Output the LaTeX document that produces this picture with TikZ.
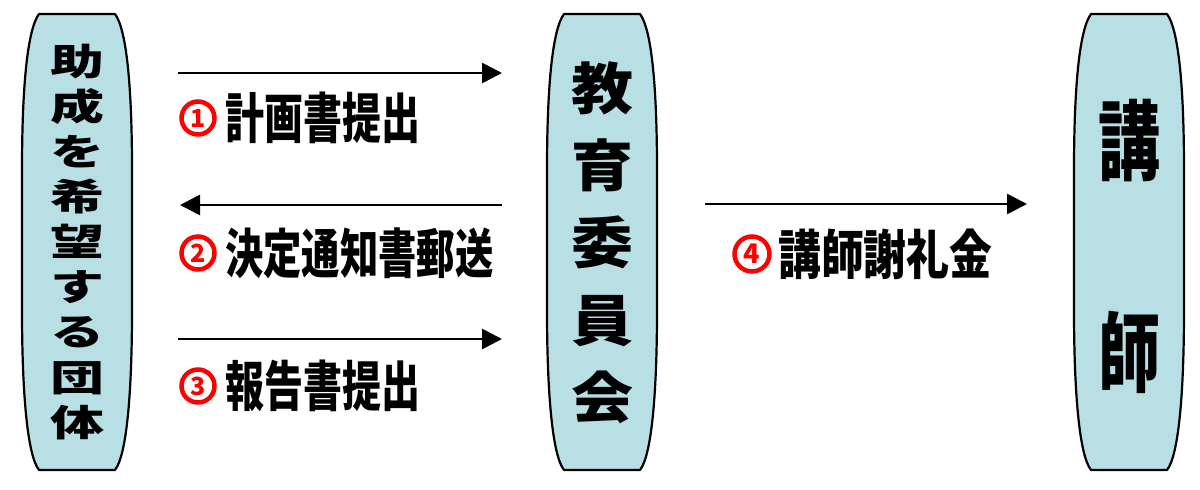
\documentclass[tikz,border=0pt]{standalone}
\usepackage{fontspec}
\newfontfamily\jp{Noto Sans CJK JP}
\usetikzlibrary{arrows.meta}
\definecolor{boxfill}{HTML}{B8DFE4}
\definecolor{numred}{HTML}{FF0000}
\tikzset{
  pillar/.style={draw=black, line width=2.2pt, fill=boxfill, line join=round},
  flow/.style={line width=2.7pt, -{Triangle[length=20pt,width=20pt]}},
  lbl/.style={inner sep=0pt, anchor=west},
  num/.style={circle, draw=numred, line width=4.5pt, minimum size=33pt, inner sep=0pt,
              text=numred, font=\jp\bfseries\fontsize{25}{25}\selectfont},
  pillarshape/.pic={
    \path[pillar] (-38,14) -- (38,14)
      .. controls (50,30) and (55,90) .. (55,170) -- (55,310)
      .. controls (55,390) and (50,455) .. (38,470) -- (-38,470)
      .. controls (-50,455) and (-55,390) .. (-55,310) -- (-55,170)
      .. controls (-55,90) and (-50,30) .. cycle;
  }
}
\begin{document}
\begin{tikzpicture}[x=1pt,y=-1pt]
\useasboundingbox (0,0) rectangle (1200,490);
\fill[white] (0,0) rectangle (1200,490);

% pillars
\pic (L) at (77,0) {pillarshape};
\pic (M) at (602,0) {pillarshape};
\pic (R) at (1129,0) {pillarshape};

% pillar texts
\node[inner sep=0pt, align=center, yscale=0.68, transform shape,
      font=\jp\bfseries\fontsize{54}{66.2}\selectfont] (ltext) at (77,242)
  {助\\成\\を\\希\\望\\す\\る\\団\\体};
\node[inner sep=0pt, align=center, yscale=0.9, transform shape,
      font=\jp\bfseries\fontsize{62}{85.9}\selectfont] (mtext) at (602,242.5)
  {教\\育\\委\\員\\会};
\node[inner sep=0pt, align=center, yscale=1.4, transform shape,
      font=\jp\bfseries\fontsize{62}{152}\selectfont] (rtext) at (1129,246.5)
  {講\\師};

% arrow end points
\coordinate (a1s) at (178,73);  \coordinate (a1e) at (502,73);
\coordinate (a2s) at (502,205); \coordinate (a2e) at (180,205);
\coordinate (a3s) at (178,339); \coordinate (a3e) at (502,339);
\coordinate (a4s) at (705,204); \coordinate (a4e) at (1027,204);

\draw[flow] (a1s) -- (a1e);
\draw[flow] (a2s) -- (a2e);
\draw[flow] (a3s) -- (a3e);
\draw[flow] (a4s) -- (a4e);

% labels
\node[num] (n1) at (198,118) {1};
\node[lbl, yscale=1.39, transform shape, font=\jp\bfseries\fontsize{39}{39}\selectfont] (t1) at (225,118) {計画書提出};
\node[num] (n2) at (198,253) {2};
\node[lbl, yscale=1.39, transform shape, font=\jp\bfseries\fontsize{38.3}{38.3}\selectfont] (t2) at (225,253) {決定通知書郵送};
\node[num] (n3) at (198,386) {3};
\node[lbl, yscale=1.39, transform shape, font=\jp\bfseries\fontsize{39}{39}\selectfont] (t3) at (225,386) {報告書提出};
\node[num, minimum size=35pt, font=\jp\bfseries\fontsize{27}{27}\selectfont] (n4) at (752,254) {4};
\node[lbl, yscale=1.24, transform shape, font=\jp\bfseries\fontsize{42.8}{42.8}\selectfont] (t4) at (778,254) {講師謝礼金};
\end{tikzpicture}
\end{document}
